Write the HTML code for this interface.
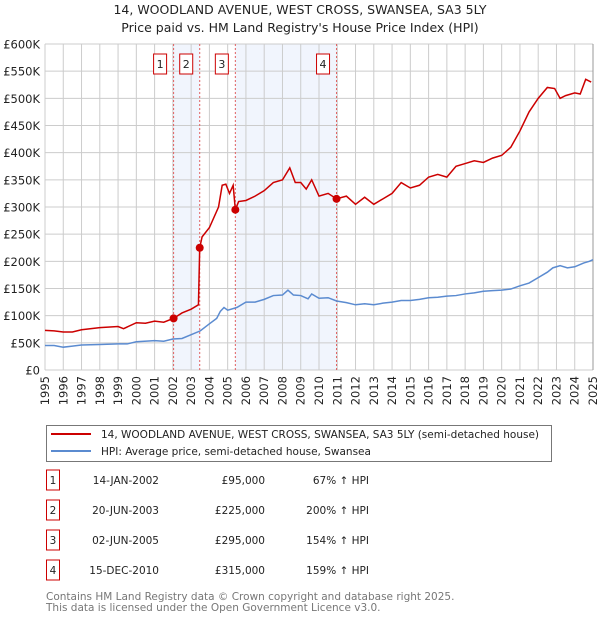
<!DOCTYPE html>
<html><head><meta charset="utf-8"><style>
body{margin:0;background:#fff;font-family:"DejaVu Sans","Liberation Sans",sans-serif;}
svg text{font-family:"DejaVu Sans","Liberation Sans",sans-serif;}
</style></head><body>
<svg id="chart" width="600" height="620" xmlns="http://www.w3.org/2000/svg">
<text x="300" y="14" font-size="12.5" text-anchor="middle" fill="#222">14, WOODLAND AVENUE, WEST CROSS, SWANSEA, SA3 5LY</text>
<text x="300" y="32" font-size="12.5" text-anchor="middle" fill="#222">Price paid vs. HM Land Registry's House Price Index (HPI)</text>
<g id="plot"></g>
<g>
<rect x="46.5" y="425.5" width="505" height="36" fill="#fff" stroke="#777"/>
<line x1="51" y1="434" x2="91" y2="434" stroke="#cc0000" stroke-width="2"/>
<text x="101" y="438" font-size="10.5" fill="#222">14, WOODLAND AVENUE, WEST CROSS, SWANSEA, SA3 5LY (semi-detached house)</text>
<line x1="51" y1="451" x2="91" y2="451" stroke="#5b8bd0" stroke-width="2"/>
<text x="101" y="455" font-size="10.5" fill="#222">HPI: Average price, semi-detached house, Swansea</text>
</g>
<g id="table" font-size="10.5" fill="#222"></g>
<text x="46" y="600" font-size="10.5" fill="#777">Contains HM Land Registry data © Crown copyright and database right 2025.</text>
<text x="46" y="611" font-size="10.5" fill="#777">This data is licensed under the Open Government Licence v3.0.</text>
</svg>
<script>
const hpiYears=[1995,1995.5,1996,1996.5,1997,1998,1999,1999.5,2000,2001,2001.5,2002,2002.5,2003,2003.5,2004,2004.4,2004.6,2004.8,2005,2005.5,2006,2006.5,2007,2007.5,2008,2008.3,2008.6,2009,2009.4,2009.6,2010,2010.5,2010.96,2011.5,2012,2012.5,2013,2013.5,2014,2014.5,2015,2015.5,2016,2016.5,2017,2017.5,2018,2018.5,2019,2019.5,2020,2020.5,2021,2021.5,2022,2022.5,2022.8,2023.2,2023.6,2024,2024.5,2024.8,2025];
const hpiValues=[45,45,42,44,46,47,48,48,52,54,53,57,58,65,72,85,95,108,115,110,115,125,125,130,137,138,147,138,137,131,140,132,133,127,124,120,122,120,123,125,128,128,130,133,134,136,137,140,142,145,146,147,149,155,160,170,180,188,192,188,190,197,200,203];
const priceYears=[1995,1995.5,1996,1996.5,1997,1998,1999,1999.3,2000,2000.5,2001,2001.5,2002.04,2002.5,2003,2003.4,2003.47,2003.6,2004,2004.5,2004.7,2004.9,2005.1,2005.3,2005.42,2005.6,2006,2006.5,2007,2007.5,2008,2008.4,2008.7,2009,2009.3,2009.6,2010,2010.5,2010.96,2011.5,2012,2012.5,2013,2013.5,2014,2014.5,2015,2015.5,2016,2016.5,2017,2017.5,2018,2018.5,2019,2019.5,2020,2020.5,2021,2021.5,2022,2022.5,2022.9,2023.2,2023.5,2024,2024.3,2024.6,2024.9];
const priceValues=[73,72,70,70,74,78,80,76,87,86,90,88,95,105,112,120,225,245,262,300,340,342,325,340,295,310,312,320,330,345,350,372,345,345,333,350,320,325,315,320,305,318,305,315,325,345,335,340,355,360,355,375,380,385,382,390,395,410,440,475,500,520,518,500,505,510,508,535,530];
const saleYears=[2002.04,2003.47,2005.42,2010.96];
const saleValues=[95,225,295,315];
const saleLabels=["1","2","3","4"];
const saleDates=["14-JAN-2002","20-JUN-2003","02-JUN-2005","15-DEC-2010"];
const salePrices=["£95,000","£225,000","£295,000","£315,000"];
const saleHpi=["67% ↑ HPI","200% ↑ HPI","154% ↑ HPI","159% ↑ HPI"];
const yTicks=[0,50,100,150,200,250,300,350,400,450,500,550,600];
const yTickLabels=["£0","£50K","£100K","£150K","£200K","£250K","£300K","£350K","£400K","£450K","£500K","£550K","£600K"];
const xTicks=[1995,1996,1997,1998,1999,2000,2001,2002,2003,2004,2005,2006,2007,2008,2009,2010,2011,2012,2013,2014,2015,2016,2017,2018,2019,2020,2021,2022,2023,2024,2025];

const L=45,R=593,T=44,B=370;
const xs=y=>L+(y-1995)/30*(R-L);
const ys=v=>B-v/600*(B-T);
const NS="http://www.w3.org/2000/svg";
const plot=document.getElementById('plot');
function mk(tag,attrs,parent){const e=document.createElementNS(NS,tag);for(const k in attrs)e.setAttribute(k,attrs[k]);(parent||plot).appendChild(e);return e;}

for(let i=0;i<saleYears.length;i+=2){
  const r=mk('rect',{x:xs(saleYears[i]),y:T,width:xs(saleYears[i+1])-xs(saleYears[i]),height:B-T,fill:'#eef3fc',opacity:0.8});
  
  
}
xTicks.forEach(t=>{
  const l=mk('line',{x1:xs(t),x2:xs(t),y1:T,y2:B,stroke:'#cccccc','stroke-width':1});
  
  
  const tx=mk('text',{x:0,y:0,'font-size':11.5,fill:'#222','text-anchor':'end',transform:`translate(${xs(t)+4},376) rotate(-90)`});
  tx.textContent=t;
  
  
});
yTicks.forEach((t,i)=>{
  const l=mk('line',{x1:L,x2:R,y1:ys(t),y2:ys(t),stroke:'#cccccc','stroke-width':1});
  
  
  const tx=mk('text',{x:L-5,y:ys(t)+4.5,'font-size':11.5,fill:'#222','text-anchor':'end'});
  tx.textContent=yTickLabels[i];
  
  
});
mk('line',{x1:R,x2:R,y1:T,y2:B,stroke:'#999','stroke-width':1});
saleYears.forEach((y,i)=>{
  const l=mk('line',{x1:xs(y),x2:xs(y),y1:T,y2:B,stroke:'#e06060','stroke-width':1,'stroke-dasharray':'2,2'});
  
  
  const b=mk('rect',{x:xs(y)-20,y:54,width:13,height:20,fill:'#fff',stroke:'#cc0000'});
  
  
  const tx=mk('text',{x:xs(y)-13.5,y:68,'font-size':11,fill:'#222','text-anchor':'middle'});
  tx.textContent=saleLabels[i];
  
  
});
const hp=mk('polyline',{points:hpiYears.map((y,i)=>xs(y)+','+ys(hpiValues[i])).join(' '),fill:'none',stroke:'#5b8bd0','stroke-width':1.5});


const pp=mk('polyline',{points:priceYears.map((y,i)=>xs(y)+','+ys(priceValues[i])).join(' '),fill:'none',stroke:'#cc0000','stroke-width':1.5});


saleYears.forEach((y,i)=>{
  const c=mk('circle',{cx:xs(y),cy:ys(saleValues[i]),r:4,fill:'#cc0000'});
  
  
});
const tb=document.getElementById('table');
saleYears.forEach((y,i)=>{
  const cy=483+i*30;
  const b=mk('rect',{x:46.5,y:cy-13,width:13,height:20,fill:'#fff',stroke:'#cc0000'},tb);
  
  
  const cells=[[saleLabels[i],53,'middle'],[saleDates[i],159,'end'],[salePrices[i],265,'end'],[saleHpi[i],369,'end']];
  cells.forEach(c=>{
    const t=mk('text',{x:c[1],y:cy+1,'text-anchor':c[2],'font-size':10.5,fill:'#222'},tb);
    t.textContent=c[0];
    
    
  });
});
</script>
</body></html>
